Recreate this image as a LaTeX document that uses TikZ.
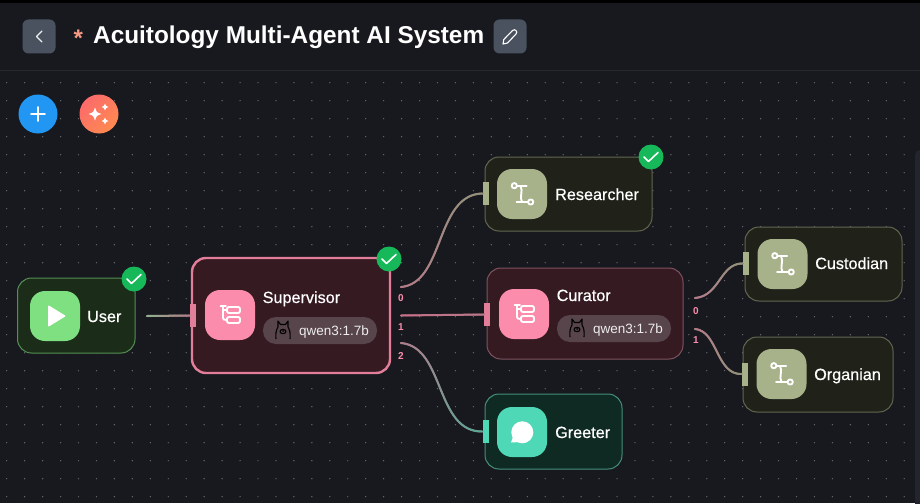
\documentclass[tikz,border=0pt]{standalone}
\usepackage{fontspec}
\setmainfont{Liberation Sans}
\newfontfamily\medfont[FakeBold=0.5]{Liberation Sans}
\usetikzlibrary{decorations.markings,calc}
\definecolor{bgc}{HTML}{17191E}
\definecolor{dotc}{HTML}{6A6C70}
\definecolor{btnc}{HTML}{4A5260}
\definecolor{pinkc}{HTML}{FB8CAB}
\definecolor{pinkline}{HTML}{B87A8B}
\definecolor{greenline}{HTML}{8FB58F}
\definecolor{oliveline}{HTML}{8F9479}
\definecolor{tealline}{HTML}{57AB94}
\definecolor{pinkfill}{HTML}{351A21}
\definecolor{pinkedge}{HTML}{80525F}
\definecolor{olivec}{HTML}{A7B18A}
\definecolor{olivefill}{HTML}{20221A}
\definecolor{oliveedge}{HTML}{616650}
\definecolor{greenc}{HTML}{7EE081}
\definecolor{greenfill}{HTML}{1B2D18}
\definecolor{greenedge}{HTML}{558F55}
\definecolor{tealc}{HTML}{4FD8B5}
\definecolor{tealfill}{HTML}{0F2923}
\definecolor{tealedge}{HTML}{468F7B}
\definecolor{pillc}{HTML}{57454B}
\definecolor{checkc}{HTML}{16B85A}
\definecolor{panelc}{HTML}{22252E}
\definecolor{bluec}{HTML}{2196F3}
\definecolor{salmonc}{HTML}{F79A85}
\definecolor{sparkA}{HTML}{FB6B6B}
\definecolor{sparkB}{HTML}{FF8A50}
\tikzset{
  card/.style={rectangle,rounded corners=14pt,inner sep=0pt,line width=1pt},
  iconbox/.style={rectangle,rounded corners=15pt,inner sep=0pt,minimum width=50pt,minimum height=50pt},
  handlebox/.style={rectangle,inner sep=0pt,minimum width=6pt,minimum height=23pt},
  pillbox/.style={rectangle,rounded corners=13pt,inner sep=0pt,fill=pillc,minimum width=114pt,minimum height=27pt},
  cardtext/.style={anchor=base west,inner sep=0pt,text=white,font=\medfont\fontsize{16.2}{18}\selectfont},
  pilltext/.style={anchor=base west,inner sep=0pt,text=white!90!pillc,font=\fontsize{13.5}{15}\selectfont},
  portlabel/.style={inner sep=0pt,text=pinkc,font=\bfseries\fontsize{10}{11}\selectfont},
  checkbadge/.style={circle,fill=checkc,inner sep=0pt,minimum size=25pt},
  iconline/.style={draw=white,line width=1.9pt,line cap=round,line join=round},
  gradline/.style 2 args={line width=2pt,line cap=round,draw=#2!50!#1,postaction={decorate},
    decoration={markings,mark=between positions 0 and 1 step 0.8pt with {
      \pgfmathtruncatemacro\gradpct{max(0,min(100,100-100*\pgfkeysvalueof{/pgf/decoration/mark info/distance from start}/\pgfdecoratedpathlength))}
      \fill[#1!\gradpct!#2] (0,0) circle (1pt);}}},
}
% icons, drawn around the given point
\newcommand{\treeicon}[1]{\begin{scope}[shift={(#1)},iconline]
  \draw (-9.5,-9) -- (-4,-9);
  \draw (-7,-9) -- (-7,3) .. controls (-7,4.5) and (-6,5) .. (-3,5);
  \draw (-7,-5) -- (-3,-5);
  \draw[rounded corners=2pt] (-3,-8) rectangle (10,-2);
  \draw[rounded corners=2pt] (-3,2) rectangle (10,8);
\end{scope}}
\newcommand{\routeicon}[1]{\begin{scope}[shift={(#1)},iconline]
  \draw (-7.7,-8.3) circle (2.6);
  \draw (-5,-8.3) -- (4.7,-8.3);
  \draw (-1.5,-8) .. controls (1.5,-3) and (-3,3) .. (0,8);
  \draw (-5.5,8) -- (6,8);
  \draw (8.7,8) circle (2.6);
\end{scope}}
\newcommand{\llamaicon}[1]{\begin{scope}[shift={(#1)},draw=black,line width=1.1pt,line join=round]
  \draw (-7,9) .. controls (-7.5,4) and (-7,0) .. (-5,-3) -- (-5,-9) -- (-2.5,-5.5) -- (2.5,-5.5) -- (5,-9) -- (5,-3)
     .. controls (7,0) and (7.5,4) .. (7,9);
  \draw (0,1.5) ellipse (3 and 2.2);
  \fill (0,1) circle (1);
\end{scope}}
\begin{document}
\begin{tikzpicture}[x=1pt,y=-1pt]
\useasboundingbox (0,0) rectangle (920,503);
\fill[bgc] (0,0) rectangle (920,503);
\fill[black] (0,0) rectangle (920,3);
\fill[bgc!93!white] (0,70) rectangle (920,70.8);
% dotted canvas
\foreach \i in {0,...,51}{\foreach \j in {0,...,23}{
  \fill[dotc] ({6.7+17.95*\i},{82.7+18*\j}) circle (0.7);}}
% side panel
\fill[panelc,rounded corners=5pt] (915,150) -- (925,150) -- (925,510) -- (915,510) -- cycle;
% header
\node[rectangle,rounded corners=6pt,fill=btnc,minimum width=33pt,minimum height=34pt,inner sep=0pt] (back) at (39,36.5) {};
\draw[white!90!btnc,line width=1.2pt,line cap=round,line join=round] (42,31) -- (36.5,36.5) -- (42,42);
\node[inner sep=0pt,anchor=base west,text=salmonc,font=\bfseries\fontsize{24}{26}\selectfont] (star) at (73.5,46) {*};
\node[inner sep=0pt,anchor=base west,text=white,font=\bfseries\fontsize{24.35}{28}\selectfont] (title) at (93,44) {Acuitology Multi-Agent AI System};
\node[rectangle,rounded corners=6pt,fill=btnc,minimum width=33pt,minimum height=34pt,inner sep=0pt] (edit) at (510,36.5) {};
\draw[white,line width=1.1pt,line join=round] (503,44) -- (503.8,39.5) -- (512.5,30.5) .. controls (514,29.5) and (515,29.5) .. (516,30.5) .. controls (517,31.5) and (517,32.5) .. (516,34) -- (507.5,43) -- cycle;
% toolbar
\node[circle,fill=bluec,minimum size=39pt,inner sep=0pt] (add) at (38,114) {};
\draw[white,line width=1.6pt,line cap=round] (31,114) -- (45,114) (38,107) -- (38,121);
\node[circle,shading=axis,left color=sparkA,right color=sparkB,shading angle=45,minimum size=39pt,inner sep=0pt] (spark) at (99,114) {};
\foreach \cx/\cy/\r in {95/114/6.5,105/107/3.5,105/121/3.5}{
  \fill[white] (\cx-\r,\cy) .. controls (\cx-\r*.25,\cy-\r*.25) .. (\cx,\cy-\r) .. controls (\cx+\r*.25,\cy-\r*.25) .. (\cx+\r,\cy) .. controls (\cx+\r*.25,\cy+\r*.25) .. (\cx,\cy+\r) .. controls (\cx-\r*.25,\cy+\r*.25) .. cycle;}
% cards
\node[card,draw=greenedge,fill=greenfill,minimum width=117.5pt,minimum height=75pt] (user) at (76.25,315.5) {};
\node[card,draw=pinkc!90!black,fill=pinkfill,line width=2.4pt,minimum width=198pt,minimum height=115pt] (sup) at (291,315.5) {};
\node[card,draw=oliveedge,fill=olivefill,minimum width=167pt,minimum height=74pt] (res) at (568.5,194) {};
\node[card,draw=pinkedge,fill=pinkfill,minimum width=196pt,minimum height=91pt] (cur) at (585,313.5) {};
\node[card,draw=tealedge,fill=tealfill,minimum width=137pt,minimum height=75pt] (gre) at (553.5,431.5) {};
\node[card,draw=oliveedge,fill=olivefill,minimum width=157pt,minimum height=74pt] (cus) at (823.5,264) {};
\node[card,draw=oliveedge,fill=olivefill,minimum width=150pt,minimum height=75pt] (org) at (818,374.5) {};
% icon boxes
\node[iconbox,fill=greenc] (userI) at (55,316) {};
\node[iconbox,fill=pinkc] (supI) at (230,315) {};
\node[iconbox,fill=olivec] (resI) at (522,194) {};
\node[iconbox,fill=pinkc] (curI) at (524,314) {};
\node[iconbox,fill=tealc] (greI) at (522,432) {};
\node[iconbox,fill=olivec] (cusI) at (782.5,264) {};
\node[iconbox,fill=olivec] (orgI) at (781.5,374) {};
% icon glyphs
\fill[white,rounded corners=1pt] (48,305) -- (66,316) -- (48,327) -- cycle;
\treeicon{230,315}
\treeicon{524,314}
\routeicon{522,194}
\routeicon{782.5,264}
\routeicon{781.5,374}
\fill[white] (522.3,432.3) circle (11);
\fill[white] (514,434) -- (511,442.5) -- (521,442) -- cycle;
% handles
\node[handlebox,fill=pinkc!90!black] (supH) at (193,315.5) {};
\node[handlebox,fill=olivec] (resH) at (486,193.5) {};
\node[handlebox,fill=pinkc!90!black] (curH) at (487,314.5) {};
\node[handlebox,fill=tealc] (greH) at (485.5,431.5) {};
\node[handlebox,fill=olivec] (cusH) at (746,263.5) {};
\node[handlebox,fill=olivec] (orgH) at (745,374) {};
% free ends
\coordinate (userOut) at (147,316);
\coordinate (sup0) at (401,287);
\coordinate (sup1) at (401,315.5);
\coordinate (sup2) at (401,343);
\coordinate (cur0) at (695,298);
\coordinate (cur1) at (695,329);
% connectors
\draw[gradline={greenline}{pinkline}] (userOut) -- (supH.west);
\draw[gradline={pinkline}{oliveline}] (sup0) .. controls (445,283) and (435,194) .. (resH.west);
\draw[gradline={pinkc!80!black}{pinkline}] (sup1) -- (curH.west);
\draw[gradline={pinkline}{tealline}] (sup2) .. controls (445,347) and (435,432) .. (greH.west);
\draw[gradline={pinkline}{oliveline}] (cur0) .. controls (720,296) and (720,263) .. (cusH.west);
\draw[gradline={pinkline}{oliveline}] (cur1) .. controls (718,331) and (716,375) .. (orgH.west);
% port labels
\node[portlabel] (p0) at (401,298) {0};
\node[portlabel] (p1) at (401,327) {1};
\node[portlabel] (p2) at (401,356) {2};
\node[portlabel] (q0) at (696,311) {0};
\node[portlabel] (q1) at (696,340) {1};
% texts
\node[cardtext] (userT) at (87,322) {User};
\node[cardtext] (supT) at (262.5,303) {Supervisor};
\node[cardtext] (resT) at (555,200) {Researcher};
\node[cardtext] (curT) at (556.5,301) {Curator};
\node[cardtext] (greT) at (555,438) {Greeter};
\node[cardtext] (cusT) at (815,269) {Custodian};
\node[cardtext] (orgT) at (814,380) {Organian};
% model pills
\node[pillbox] (pillS) at (320,330.5) {};
\node[pillbox] (pillC) at (614,328.5) {};
\llamaicon{283,330}
\llamaicon{577,328}
\node[pilltext] (modS) at (299,335) {qwen3:1.7b};
\node[pilltext] (modC) at (593,333) {qwen3:1.7b};
% status badges
\node[checkbadge] (ckU) at (134,279) {};
\node[checkbadge] (ckS) at (389,259) {};
\node[checkbadge] (ckR) at (651,157) {};
\foreach \x/\y in {134/279,389/259,651/157}{
  \draw[white,line width=1.6pt,line cap=round,line join=round] (\x-7,\y) -- (\x-2.5,\y+4.5) -- (\x+7,\y-4.5);}
\end{tikzpicture}
\end{document}
